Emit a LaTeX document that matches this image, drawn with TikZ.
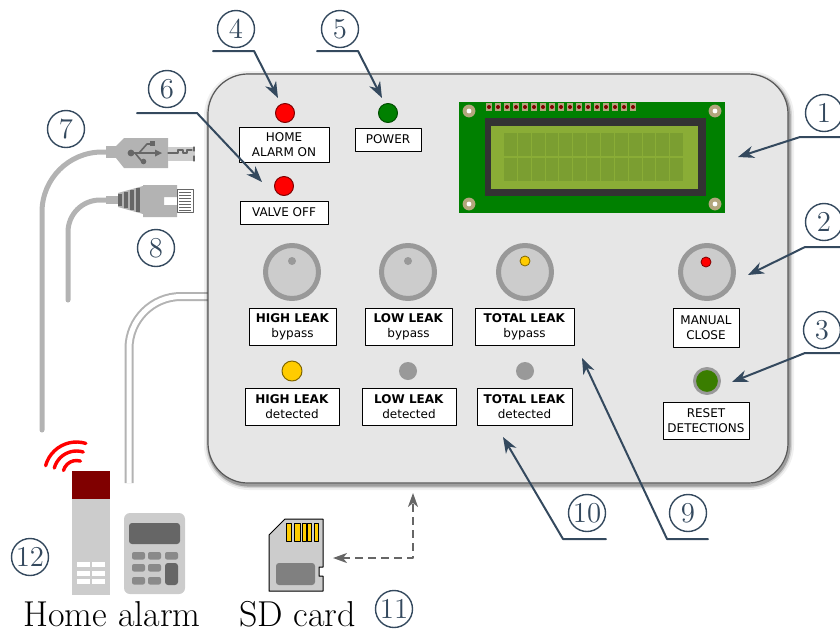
\documentclass[tikz,border=0pt]{standalone}
\usepackage{fontspec}
\newfontfamily\panelfont{DejaVu Sans}
\usetikzlibrary{arrows.meta}

\definecolor{callout}{HTML}{34495E}
\definecolor{panelgray}{HTML}{E6E6E6}
\definecolor{knobgray}{HTML}{CCCCCC}
\definecolor{ringgray}{HTML}{999999}
\definecolor{cablegray}{HTML}{B3B3B3}
\definecolor{usbsym}{HTML}{666666}
\definecolor{pcbgreen}{HTML}{008000}
\definecolor{lcdback}{HTML}{8AAD36}
\definecolor{lcdcell}{HTML}{7B9E31}
\definecolor{bezel}{HTML}{333333}
\definecolor{pinbrass}{HTML}{B3A67D}
\definecolor{ledred}{HTML}{FF0000}
\definecolor{ledgreen}{HTML}{008000}
\definecolor{ledyellow}{HTML}{FFCC00}
\definecolor{resetgreen}{HTML}{3A7D00}
\definecolor{alarmred}{HTML}{800000}

\begin{document}
\begin{tikzpicture}[x=0.5pt,y=-0.5pt,line join=round,line cap=round,
    >={Stealth[length=8pt,width=6pt,inset=2.5pt]},
    num/.style={circle,draw=callout,line width=0.7pt,text=callout,
      minimum size=18.5pt,inner sep=0pt,font=\Large},
    lbl/.style={draw=black,fill=white,line width=0.5pt,align=center,
      inner sep=0pt,font=\panelfont\fontsize{6}{7.5}\selectfont},
    led/.style={circle,inner sep=0pt,minimum size=9pt,line width=0.5pt},
    knob/.style={circle,fill=knobgray,draw=ringgray,line width=2.5pt,
      inner sep=0pt,minimum size=26.5pt},
    lead/.style={draw=callout,line width=1pt}]
\useasboundingbox (0,0) rectangle (840,633);

% cables
\draw[cablegray,line width=2.5pt,rounded corners=30pt] (108,152) -- (42,152) -- (42,430);
\draw[cablegray,line width=2.5pt,rounded corners=16pt] (108,200) -- (68,200) -- (68,300);
\draw[cablegray,line width=1pt,double=white,double distance=2.5pt,line cap=butt,
  rounded corners=26pt] (212,296.5) -- (129,296.5) -- (129,483);

% USB plug
\fill[cablegray] (106,146) rectangle (116,158);
\fill[cablegray] (116,146) -- (124,138) -- (168,138) -- (168,168) -- (124,168) -- (116,158) -- cycle;
\fill[knobgray] (168,147) rectangle (195,161);
\draw[usbsym,line width=0.6pt] (168,153) -- (178,153) -- (178,150) -- (183,150) -- (183,153)
  -- (187,153) -- (187,150) -- (192,150);
\draw[usbsym,line width=0.6pt] (194,147) -- (194,151) (194,156) -- (194,161);
\begin{scope}[usbsym]
  \fill (131,153) circle (1.7pt);
  \draw[line width=0.8pt] (131,153) -- (157,153);
  \fill (162,153) -- (155,149.5) -- (155,156.5) -- cycle;
  \draw[line width=0.8pt] (139,153) -- (147,144) -- (150,144);
  \fill (149.5,140.5) rectangle (154.5,145.5);
  \draw[line width=0.8pt] (135,153) -- (142,161.5);
  \fill (143.5,161.5) circle (1.4pt);
\end{scope}

% network plug
\fill[cablegray] (106,196) rectangle (118,204);
\fill[cablegray] (118,193) -- (143,186) -- (143,214) -- (118,207) -- cycle;
\foreach \x/\h in {118/6,124/8,130/10,136/12}
  \fill[usbsym] (\x,200-\h) rectangle +(4,2*\h);
\fill[cablegray] (143,185) -- (177,185) -- (177,197) -- (164,197) -- (164,205) -- (177,205)
  -- (177,217) -- (143,217) -- cycle;
\draw[usbsym,fill=white,line width=0.5pt] (177,189) rectangle (193,212);
\foreach \y in {191.5,194.5,...,209.5}
  \fill[usbsym] (179,\y) rectangle +(12,1.8);

% enclosure with a soft edge
\foreach \w/\o in {5pt/0.06,3pt/0.12,1.6pt/0.25}
  \draw[black,line width=\w,opacity=\o,rounded corners=20pt] (209,76) rectangle (789,485);
\draw[fill=panelgray,draw=black!65,line width=0.6pt,rounded corners=20pt] (208,74) rectangle (788,483);

% LCD module
\fill[pcbgreen] (459,102) rectangle (725,213);
\foreach \i in {0,...,16} {
  \fill[pinbrass] (486+\i*9,103) rectangle +(6,8);
  \fill[alarmred] (489+\i*9,107) circle (1pt);
}
\foreach \p in {(469,111),(715,111),(469,204),(715,204)} {
  \fill[pinbrass] \p circle (3.2pt);
  \fill[white] \p circle (1.2pt);
}
\fill[bezel] (485,118) rectangle (706,196);
\fill[lcdback] (491,126) rectangle (698,189);
\foreach \c in {0,...,12}
  \foreach \r in {0,1}
    \fill[lcdcell] (504+\c*13.85,133+\r*25) rectangle +(12.85,23);

% status LEDs
\node[led,fill=ledred,draw=alarmred,minimum size=9.5pt] (alarmled) at (285,113) {};
\node[lbl,minimum width=45pt,minimum height=17.5pt] (alarmlbl) at (284,144.5) {HOME\\ALARM ON};
\node[led,fill=ledgreen,draw=ledgreen!60!black,minimum size=9.5pt] (powerled) at (388,113) {};
\node[lbl,minimum width=33pt,minimum height=11.5pt] (powerlbl) at (388,139.5) {POWER};
\node[led,fill=ledred,draw=alarmred,minimum size=9.5pt] (valveled) at (284,186) {};
\node[lbl,minimum width=44pt,minimum height=11.5pt] (valvelbl) at (284,212.5) {VALVE OFF};

% knobs
\foreach \n/\x in {highknob/292,lowknob/408,totalknob/525,closeknob/707}
  \node[knob] (\n) at (\x,272) {};
\fill[ringgray] ([yshift=5.5pt]highknob.center) circle (2pt);
\fill[ringgray] ([yshift=5.5pt]lowknob.center) circle (2pt);
\draw[fill=ledyellow,draw=ledyellow!50!black,line width=0.4pt] ([yshift=5.5pt]totalknob.center) circle (2.5pt);
\draw[fill=ledred,draw=alarmred,line width=0.4pt] ([xshift=-0.5pt,yshift=5pt]closeknob.center) circle (2.5pt);

\node[lbl,minimum width=43.5pt,minimum height=18.5pt] (highlbl) at (292.5,326.5) {\textbf{HIGH LEAK}\\bypass};
\node[lbl,minimum width=43.5pt,minimum height=18.5pt] (lowlbl) at (408.5,326.5) {\textbf{LOW LEAK}\\bypass};
\node[lbl,minimum width=49.5pt,minimum height=18.5pt] (totallbl) at (524.5,326.5) {\textbf{TOTAL LEAK}\\bypass};
\node[lbl,minimum width=33pt,minimum height=19.5pt] (closelbl) at (706,327.5) {MANUAL\\CLOSE};

% detection LEDs
\node[led,fill=ledyellow,draw=ledyellow!50!black,minimum size=10pt] (highled) at (292,371) {};
\node[led,fill=ringgray,minimum size=9pt] (lowled) at (408,371) {};
\node[led,fill=ringgray,minimum size=9pt] (totalled) at (525,371) {};
\node[circle,fill=resetgreen,draw=ringgray,line width=1.5pt,minimum size=12.5pt,inner sep=0pt] (resetbtn) at (707,381) {};

\node[lbl,minimum width=47pt,minimum height=18.5pt] (highdet) at (292,406.5) {\textbf{HIGH LEAK}\\detected};
\node[lbl,minimum width=47pt,minimum height=18.5pt] (lowdet) at (409,406.5) {\textbf{LOW LEAK}\\detected};
\node[lbl,minimum width=47.5pt,minimum height=18.5pt] (totaldet) at (524.5,406.5) {\textbf{TOTAL LEAK}\\detected};
\node[lbl,minimum width=43pt,minimum height=18.5pt] (resetlbl) at (706,420.5) {RESET\\DETECTIONS};

% home alarm
\foreach \r in {6.75pt,11.5pt,16pt}
  \draw[ledred,line width=1.7pt] ([shift={(73:\r)}]76.5,474) arc[start angle=73,end angle=165,radius=\r];
\fill[alarmred] (72,471) rectangle (110,499);
\fill[knobgray] (72,499) rectangle (110,595);
\foreach \y in {562,571,579}
  \foreach \x in {77,92}
    \fill[white] (\x,\y) rectangle +(13,5);
\fill[knobgray,rounded corners=3pt] (124,513) rectangle (185,594);
\fill[usbsym,rounded corners=1.5pt] (129,523) rectangle (180,544);
\foreach \x in {132,148}
  \foreach \y in {552,564,577}
    \fill[ringgray!90!black,rounded corners=1pt] (\x,\y) rectangle +(13,7.5);
\fill[ringgray!90!black,rounded corners=1pt] (165,552) rectangle +(13,7.5);
\fill[usbsym,rounded corners=1.5pt] (165,563) rectangle (178,585);
\node[anchor=base,font=\fontsize{18}{21}\selectfont] (alarmtxt) at (112,626) {Home alarm};

% SD card
\draw[fill=knobgray,line width=0.5pt] (269,535) -- (285,519) -- (323,519) -- (323,567) -- (319,567)
  -- (319,576) -- (323,576) -- (323,591) -- (269,591) -- cycle;
\foreach \x/\w in {286/5.7,294/6,302/4,307.7/4,314.3/4}
  \draw[fill=ledyellow,line width=0.4pt] (\x,523.3) rectangle +(\w,18.4);
\fill[black!50,rounded corners=1.5pt] (276,563) rectangle (315,585);
\node[anchor=base,font=\fontsize{18}{21}\selectfont] (sdtxt) at (297.5,626) {SD card};

\coordinate (sdport) at (333,558);
\coordinate (slot) at (413,493);
\draw[usbsym,line width=1pt,dash pattern=on 4pt off 2.5pt,line cap=butt,
  {Stealth[length=7pt,width=5pt,inset=2pt]}-{Stealth[length=7pt,width=5pt,inset=2pt]}] (sdport) -| (slot);

% numbered callouts
\foreach \i/\x/\y in {1/824/113,2/824/222,3/822/330,4/236/29,5/340/29,6/167/89,
    7/66/129,8/156/248,9/688/513,10/587/513,11/394/609,12/30/557}
  \node[num] (n\i) at (\x,\y) {\i};

\coordinate (c1) at (845,137); \coordinate (k1) at (800,137); \coordinate (t1) at (738,157);
\coordinate (c2) at (845,247); \coordinate (k2) at (805,247); \coordinate (t2) at (748,275);
\coordinate (c3) at (845,353); \coordinate (k3) at (805,353); \coordinate (t3) at (732,382);
\coordinate (c4) at (213,51);  \coordinate (k4) at (254,51);  \coordinate (t4) at (278,98);
\coordinate (c5) at (317,51);  \coordinate (k5) at (358,51);  \coordinate (t5) at (382,98);
\coordinate (c6) at (137,113); \coordinate (k6) at (197,113); \coordinate (t6) at (262,182);
\coordinate (c9) at (708,539); \coordinate (k9) at (667,539); \coordinate (t9) at (582,358);
\coordinate (c10) at (606,539); \coordinate (k10) at (563,539); \coordinate (t10) at (503,437);
\foreach \i in {1,2,3,4,5,6,9,10}
  \draw[lead,->] (c\i) -- (k\i) -- (t\i);
\end{tikzpicture}
\end{document}
